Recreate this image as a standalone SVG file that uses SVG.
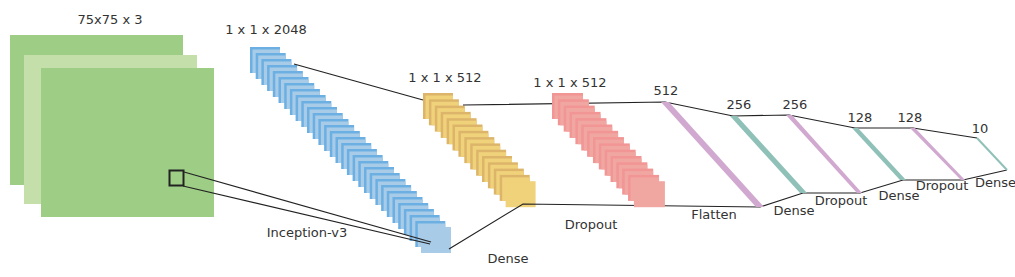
<svg xmlns="http://www.w3.org/2000/svg" xmlns:xlink="http://www.w3.org/1999/xlink" width="1015" height="277" viewBox="0 0 1015 277">
<style>
text{font-family:"DejaVu Sans","Liberation Sans",sans-serif;font-size:13px;fill:#333;}
.c{text-anchor:middle;}
.ln{fill:none;stroke:#222;stroke-width:1.2;}
.pink{fill:#d1a8cf;}
.teal{fill:#8fc1b8;}
</style>
<defs>
<g id="bl"><rect width="30" height="26" fill="#6cb0e3"/><rect x="2.5" y="2.5" width="27.5" height="23.5" fill="#a8cbe8"/></g>
<g id="yl"><rect width="30" height="26" fill="#dcb56b"/><rect x="2.5" y="2.5" width="27.5" height="23.5" fill="#f0d27b"/></g>
<g id="rl"><rect width="31" height="26" fill="#f29595"/><rect x="2.5" y="2.5" width="28.5" height="23.5" fill="#f0a7a2"/></g>
</defs>
<rect width="1015" height="277" fill="#fff"/>
<g id="input">
<rect x="10" y="35" width="173" height="150" fill="#9ecd86"/>
<rect x="24" y="55" width="173" height="149" fill="#c4dfaa"/>
<rect x="41" y="68" width="173" height="149" fill="#9ecd86"/>
<rect x="169.5" y="170.5" width="14" height="15" fill="none" stroke="#222" stroke-width="2"/>
<text class="c" x="110" y="24">75x75 x 3</text>
</g>
<g id="inception">
<use xlink:href="#bl" x="250" y="47"/><use xlink:href="#bl" x="255.7" y="53"/><use xlink:href="#bl" x="261.4" y="59"/><use xlink:href="#bl" x="267.1" y="65"/><use xlink:href="#bl" x="272.8" y="71"/><use xlink:href="#bl" x="278.5" y="77"/><use xlink:href="#bl" x="284.2" y="83"/><use xlink:href="#bl" x="289.9" y="89"/><use xlink:href="#bl" x="295.6" y="95"/><use xlink:href="#bl" x="301.3" y="101"/><use xlink:href="#bl" x="307" y="107"/><use xlink:href="#bl" x="312.7" y="113"/><use xlink:href="#bl" x="318.4" y="119"/><use xlink:href="#bl" x="324.1" y="125"/><use xlink:href="#bl" x="329.8" y="131"/><use xlink:href="#bl" x="335.5" y="137"/><use xlink:href="#bl" x="341.2" y="143"/><use xlink:href="#bl" x="346.9" y="149"/><use xlink:href="#bl" x="352.6" y="155"/><use xlink:href="#bl" x="358.3" y="161"/><use xlink:href="#bl" x="364" y="167"/><use xlink:href="#bl" x="369.7" y="173"/><use xlink:href="#bl" x="375.4" y="179"/><use xlink:href="#bl" x="381.1" y="185"/><use xlink:href="#bl" x="386.8" y="191"/><use xlink:href="#bl" x="392.5" y="197"/><use xlink:href="#bl" x="398.2" y="203"/><use xlink:href="#bl" x="403.9" y="209"/><use xlink:href="#bl" x="409.6" y="215"/><use xlink:href="#bl" x="415.3" y="221"/>
<rect x="421" y="227" width="30" height="26" fill="#a8cbe8"/>
<text class="c" x="266" y="34">1 x 1 x 2048</text>
<text class="c" x="307" y="237">Inception-v3</text>
</g>
<g id="dense1">
<use xlink:href="#yl" x="423" y="93"/><use xlink:href="#yl" x="428.9" y="99.3"/><use xlink:href="#yl" x="434.8" y="105.6"/><use xlink:href="#yl" x="440.7" y="111.9"/><use xlink:href="#yl" x="446.6" y="118.2"/><use xlink:href="#yl" x="452.5" y="124.5"/><use xlink:href="#yl" x="458.4" y="130.8"/><use xlink:href="#yl" x="464.3" y="137.1"/><use xlink:href="#yl" x="470.2" y="143.4"/><use xlink:href="#yl" x="476.1" y="149.7"/><use xlink:href="#yl" x="482" y="156"/><use xlink:href="#yl" x="487.9" y="162.3"/><use xlink:href="#yl" x="493.8" y="168.6"/><use xlink:href="#yl" x="499.7" y="174.9"/>
<rect x="505.6" y="181.2" width="30" height="26" fill="#f0d27b"/>
<text class="c" x="445" y="82">1 x 1 x 512</text>
<text class="c" x="508" y="263">Dense</text>
</g>
<g id="connectors">
<line class="ln" x1="184" y1="172" x2="431" y2="242"/>
<line class="ln" x1="183" y1="186" x2="430" y2="244"/>
<line class="ln" x1="294" y1="64" x2="423" y2="100"/>
<polyline class="ln" points="463,105 665,102 733,116 789,115 855,128 913,128 977,138"/>
<polyline class="ln" points="449,249 523,204 760,207 803,193 860,193 903,180 963,180 1007,170"/>
</g>
<g id="dropout1">
<use xlink:href="#rl" x="552" y="93"/><use xlink:href="#rl" x="557.85" y="99.3"/><use xlink:href="#rl" x="563.7" y="105.6"/><use xlink:href="#rl" x="569.55" y="111.9"/><use xlink:href="#rl" x="575.4" y="118.2"/><use xlink:href="#rl" x="581.25" y="124.5"/><use xlink:href="#rl" x="587.1" y="130.8"/><use xlink:href="#rl" x="592.95" y="137.1"/><use xlink:href="#rl" x="598.8" y="143.4"/><use xlink:href="#rl" x="604.65" y="149.7"/><use xlink:href="#rl" x="610.5" y="156"/><use xlink:href="#rl" x="616.35" y="162.3"/><use xlink:href="#rl" x="622.2" y="168.6"/><use xlink:href="#rl" x="628.05" y="174.9"/>
<rect x="633.9" y="181.2" width="31" height="26" fill="#f0a7a2"/>
<text class="c" x="570" y="87">1 x 1 x 512</text>
<text class="c" x="591" y="229">Dropout</text>
</g>
<g id="flatten">
<polygon class="pink" points="661,102 669,102 764,207 756,207"/>
<text class="c" x="666" y="95">512</text>
<text class="c" x="714" y="219">Flatten</text>
</g>
<g id="dense2">
<polygon class="teal" points="730,116 737,116 807,193 800,193"/>
<text class="c" x="739" y="109">256</text>
<text class="c" x="794" y="215">Dense</text>
</g>
<g id="dropout2">
<polygon class="pink" points="786,115 792,115 862,193 857,193"/>
<text class="c" x="795" y="109">256</text>
<text class="c" x="841" y="205">Dropout</text>
</g>
<g id="dense3">
<polygon class="teal" points="852,128 858,128 906,180 900,180"/>
<text class="c" x="860" y="122">128</text>
<text class="c" x="899" y="200">Dense</text>
</g>
<g id="dropout3">
<polygon class="pink" points="910,128 915,128 965,180 961,180"/>
<text class="c" x="910" y="122">128</text>
<text class="c" x="942" y="190">Dropout</text>
</g>
<g id="dense4">
<line x1="977" y1="138" x2="1007" y2="170" stroke="#8fc1b8" stroke-width="2"/>
<text class="c" x="980" y="133">10</text>
<text x="975" y="187">Dense</text>
</g>
</svg>
